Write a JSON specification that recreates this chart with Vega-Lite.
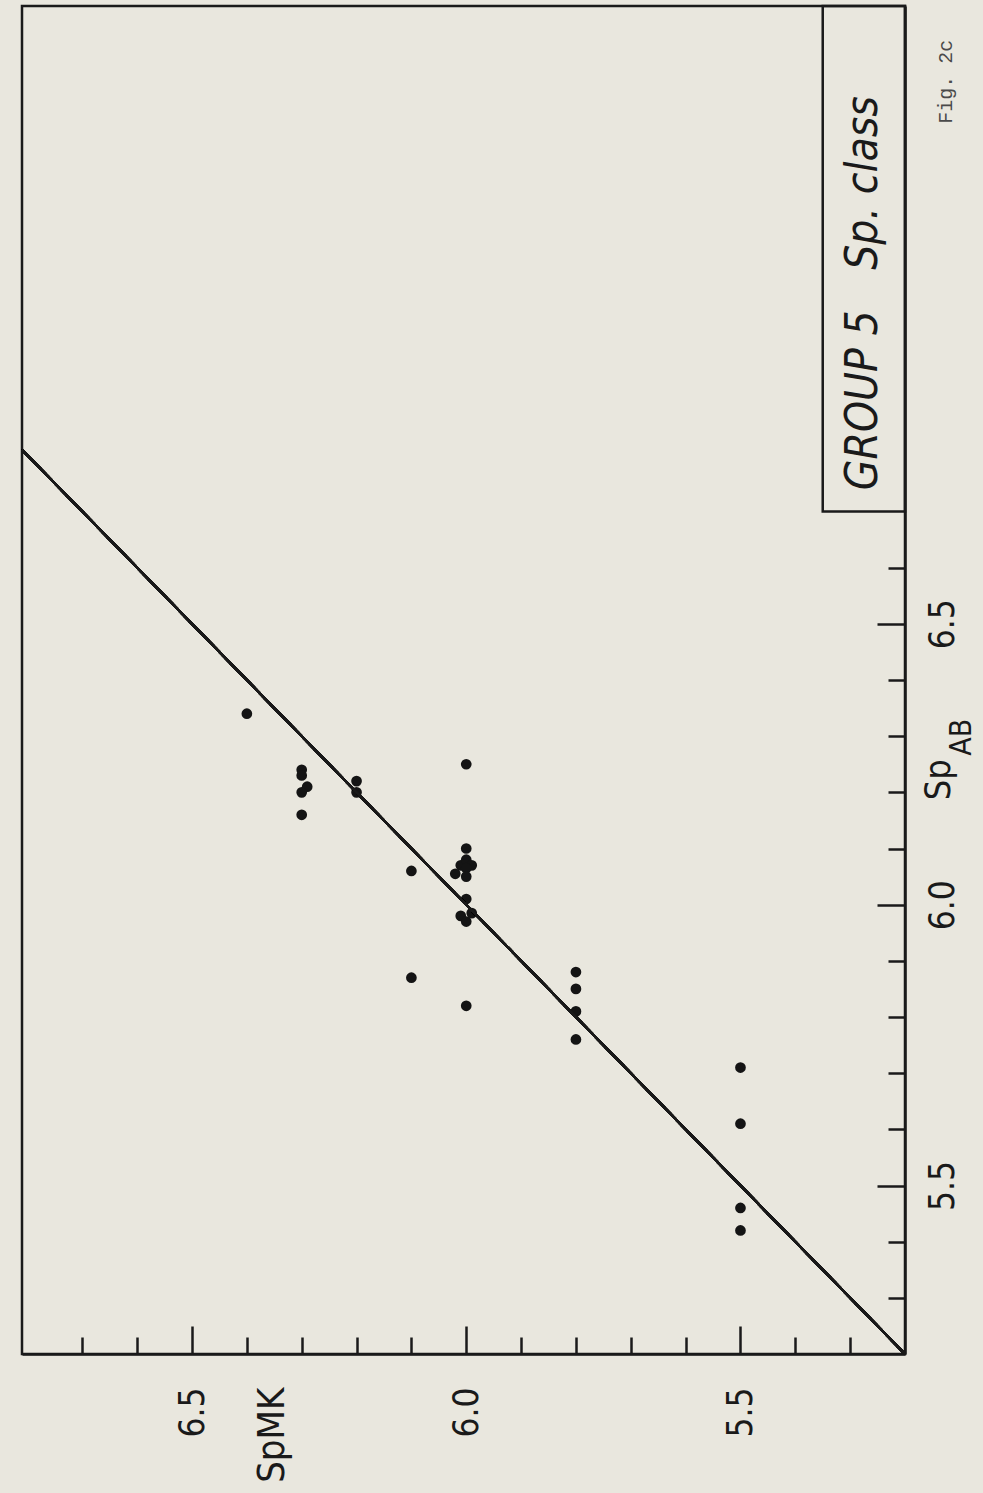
{
  "$schema": "https://vega.github.io/schema/vega-lite/v6.json",
  "width": 883,
  "height": 1348,
  "autosize": {"type": "none"},
  "padding": {"left": 22, "top": 6, "right": 78, "bottom": 139},
  "background": "#e9e7de",
  "config": {
    "view": {"stroke": "#1a1a1a", "strokeWidth": 2.5},
    "font": "Liberation Sans Narrow, DejaVu Sans Condensed, Roboto Condensed, Liberation Sans, sans-serif"
  },
  "data": {
    "values": [
      {"SpMK": 6.40, "SpAB": 6.34},
      {"SpMK": 6.30, "SpAB": 6.24},
      {"SpMK": 6.30, "SpAB": 6.23},
      {"SpMK": 6.29, "SpAB": 6.21},
      {"SpMK": 6.30, "SpAB": 6.20},
      {"SpMK": 6.30, "SpAB": 6.16},
      {"SpMK": 6.20, "SpAB": 6.22},
      {"SpMK": 6.20, "SpAB": 6.20},
      {"SpMK": 6.10, "SpAB": 6.06},
      {"SpMK": 6.10, "SpAB": 5.87},
      {"SpMK": 6.00, "SpAB": 6.25},
      {"SpMK": 6.00, "SpAB": 6.10},
      {"SpMK": 6.01, "SpAB": 6.07},
      {"SpMK": 6.00, "SpAB": 6.08},
      {"SpMK": 5.99, "SpAB": 6.07},
      {"SpMK": 6.00, "SpAB": 6.065},
      {"SpMK": 6.02, "SpAB": 6.055},
      {"SpMK": 6.00, "SpAB": 6.05},
      {"SpMK": 6.00, "SpAB": 6.01},
      {"SpMK": 6.01, "SpAB": 5.98},
      {"SpMK": 6.00, "SpAB": 5.97},
      {"SpMK": 5.99, "SpAB": 5.985},
      {"SpMK": 6.00, "SpAB": 5.82},
      {"SpMK": 5.80, "SpAB": 5.88},
      {"SpMK": 5.80, "SpAB": 5.85},
      {"SpMK": 5.80, "SpAB": 5.81},
      {"SpMK": 5.80, "SpAB": 5.76},
      {"SpMK": 5.50, "SpAB": 5.71},
      {"SpMK": 5.50, "SpAB": 5.61},
      {"SpMK": 5.50, "SpAB": 5.46},
      {"SpMK": 5.50, "SpAB": 5.42}
    ]
  },
  "layer": [
    {
      "mark": {"type": "circle", "size": 115, "color": "#141414", "opacity": 1},
      "encoding": {
        "x": {
          "field": "SpMK",
          "type": "quantitative",
          "scale": {"domain": [5.2, 6.81], "reverse": true, "nice": false, "zero": false},
          "axis": {
            "orient": "bottom",
            "values": [5.3, 5.4, 5.5, 5.6, 5.7, 5.8, 5.9, 6.0, 6.1, 6.2, 6.3, 6.4, 6.5, 6.6, 6.7],
            "labelExpr": "abs(datum.value*2-round(datum.value*2))<0.001 ? format(datum.value,'.1f') : ''",
            "labelAngle": 270,
            "labelAlign": "right",
            "labelBaseline": "middle",
            "labelPadding": 61,
            "labelFontSize": 35,
            "labelColor": "#1a1a1a",
            "labelOverlap": false,
            "labelFlush": false,
            "tickSize": {"condition": {"test": "abs(datum.value*2-round(datum.value*2))<0.001", "value": -28}, "value": -17},
            "tickWidth": 2.5,
            "tickColor": "#1a1a1a",
            "domain": true,
            "domainColor": "#1a1a1a",
            "domainWidth": 2.5,
            "grid": false,
            "title": "SpMK",
            "titleAngle": 270,
            "titleAlign": "right",
            "titleBaseline": "middle",
            "titleX": 250,
            "titleY": 33,
            "titleFontSize": 38,
            "titleFontWeight": "normal",
            "titleColor": "#1a1a1a"
          }
        },
        "y": {
          "field": "SpAB",
          "type": "quantitative",
          "scale": {"domain": [5.2, 7.6], "nice": false, "zero": false},
          "axis": {
            "orient": "right",
            "values": [5.3, 5.4, 5.5, 5.6, 5.7, 5.8, 5.9, 6.0, 6.1, 6.2, 6.3, 6.4, 6.5, 6.6],
            "labelExpr": "abs(datum.value*2-round(datum.value*2))<0.001 ? format(datum.value,'.1f') : ''",
            "labelAngle": 270,
            "labelAlign": "center",
            "labelBaseline": "top",
            "labelPadding": 48,
            "labelFontSize": 35,
            "labelColor": "#1a1a1a",
            "labelOverlap": false,
            "labelFlush": false,
            "tickSize": {"condition": {"test": "abs(datum.value*2-round(datum.value*2))<0.001", "value": -28}, "value": -17},
            "tickWidth": 2.5,
            "tickColor": "#1a1a1a",
            "domain": true,
            "domainColor": "#1a1a1a",
            "domainWidth": 2.5,
            "grid": false,
            "title": null
          }
        }
      }
    },
    {
      "mark": {"type": "rule", "color": "#1a1a1a", "strokeWidth": 2.2},
      "encoding": {
        "x": {"datum": 5.2, "type": "quantitative"},
        "y": {"datum": 5.2, "type": "quantitative"},
        "x2": {"datum": 6.81},
        "y2": {"datum": 6.81}
      }
    },
    {
      "data": {"values": [{"box": "legend"}]},
      "mark": {"type": "rect", "fill": "transparent", "stroke": "#1a1a1a", "strokeWidth": 2.5},
      "encoding": {
        "x": {"datum": 5.35, "type": "quantitative"},
        "x2": {"datum": 5.2},
        "y": {"datum": 6.7, "type": "quantitative"},
        "y2": {"datum": 7.6}
      }
    },
    {
      "data": {"values": [{"t": "GROUP 5"}]},
      "mark": {"type": "text", "angle": 270, "align": "center", "baseline": "middle", "fontSize": 44, "fontStyle": "italic", "color": "#1a1a1a"},
      "encoding": {
        "x": {"datum": 5.275, "type": "quantitative"},
        "y": {"datum": 6.898, "type": "quantitative"},
        "text": {"field": "t"}
      }
    },
    {
      "data": {"values": [{"t": "Sp. class"}]},
      "mark": {"type": "text", "angle": 270, "align": "center", "baseline": "middle", "fontSize": 44, "fontStyle": "italic", "color": "#1a1a1a"},
      "encoding": {
        "x": {"datum": 5.275, "type": "quantitative"},
        "y": {"datum": 7.285, "type": "quantitative"},
        "text": {"field": "t"}
      }
    },
    {
      "data": {"values": [{"t": "Fig. 2c"}]},
      "mark": {"type": "text", "angle": 270, "align": "center", "baseline": "middle", "fontSize": 20, "font": "Liberation Mono, DejaVu Sans Mono, monospace", "color": "#4a4a4a"},
      "encoding": {
        "x": {"datum": 5.1257, "type": "quantitative"},
        "y": {"datum": 7.465, "type": "quantitative"},
        "text": {"field": "t"}
      }
    },
    {
      "data": {"values": [{"t": "Sp"}]},
      "mark": {"type": "text", "angle": 270, "align": "left", "baseline": "alphabetic", "fontSize": 36, "color": "#1a1a1a"},
      "encoding": {
        "x": {"datum": 5.118, "type": "quantitative"},
        "y": {"datum": 6.186, "type": "quantitative"},
        "text": {"field": "t"}
      }
    },
    {
      "data": {"values": [{"t": "AB"}]},
      "mark": {"type": "text", "angle": 270, "align": "left", "baseline": "alphabetic", "fontSize": 30, "color": "#1a1a1a"},
      "encoding": {
        "x": {"datum": 5.08, "type": "quantitative"},
        "y": {"datum": 6.265, "type": "quantitative"},
        "text": {"field": "t"}
      }
    }
  ]
}
